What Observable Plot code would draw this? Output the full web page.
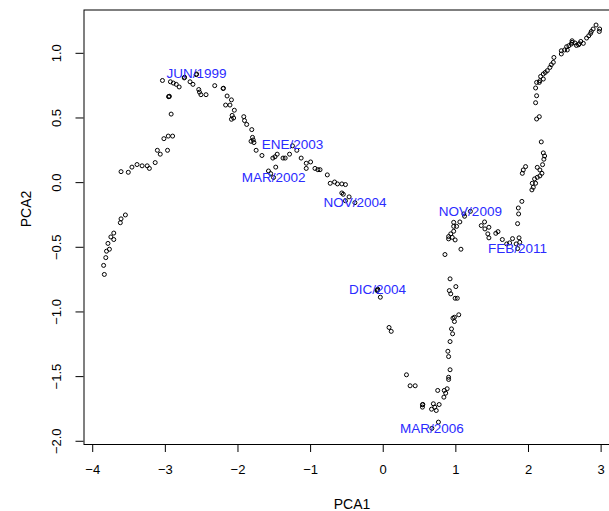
<!DOCTYPE html>
<html><head><meta charset="utf-8">
<script src="https://cdn.jsdelivr.net/npm/d3@7"></script>
<script src="https://cdn.jsdelivr.net/npm/@observablehq/plot@0.6"></script>
<style>html,body{margin:0;padding:0;background:#fff;overflow:hidden}</style>
</head><body><div id="chart"></div>
<script>
const pcaX = [
-3.84,-3.85,-3.82,-3.81,-3.77,-3.79,-3.71,-3.75,-3.71,-3.62,-3.61,-3.55,
-3.61,-3.51,-3.46,-3.39,-3.32,-3.22,-3.25,-3.14,-3.07,-3.11,-2.97,-2.90,-2.96,-3.02,-2.92,
-2.95,-2.955,-2.945,-3.04,-2.93,-2.89,-2.85,-2.81,-2.74,-2.735,-2.66,-2.62,-2.57,-2.575,
-2.54,-2.53,-2.51,-2.44,-2.32,-2.20,-2.205,-2.15,-2.09,-2.17,-2.11,-2.05,-2.08,-2.09,-2.06,
-1.92,-1.91,-1.88,-1.81,-1.80,-1.82,-1.78,-1.79,-1.75,-1.67,
-1.58,-1.55,-1.51,-1.48,-1.52,-1.49,-1.46,-1.38,-1.35,-1.29,-1.25,-1.19,-1.13,-1.06,-1.00,
-1.06,-0.94,-0.90,-0.87,-0.77,-0.73,-0.67,-0.63,-0.57,-0.52,-0.57,-0.55,-0.47,-0.52,-0.39,
-0.08,-0.075,-0.085,-0.04,0.08,0.11,0.32,0.37,0.44,0.54,0.545,0.54,0.665,0.69,0.71,0.73,
0.77,0.76,0.67,0.835,0.86,0.88,0.84,0.75,0.90,0.90,0.92,0.90,0.89,0.92,0.955,0.94,0.98,
0.96,0.98,1.04,1.02,0.99,0.93,0.91,1.00,0.92,0.85,1.07,0.99,0.90,0.95,0.90,0.93,0.97,1.01,
0.97,0.97,1.055,1.12,1.11,1.20,
1.35,1.395,1.40,1.455,1.44,1.455,1.55,1.58,1.64,1.70,1.74,1.78,1.83,1.85,1.87,1.88,
1.85,1.864,1.86,1.909,2.047,2.066,2.052,2.098,2.084,2.121,2.157,1.915,1.928,1.96,2.185,
2.157,2.121,2.194,2.212,2.222,2.204,2.176,2.149,2.112,2.098,2.112,2.098,2.149,2.112,2.157,
2.204,2.167,2.204,2.231,2.259,2.295,2.314,2.342,2.35,2.452,2.452,2.534,2.497,2.525,2.556,
2.59,2.60,2.66,2.69,2.72,2.755,2.80,2.83,2.855,2.865,2.89,2.975,2.98,2.93,2.60,2.64,2.70
];
const pcaY = [
-0.71,-0.64,-0.58,-0.53,-0.515,-0.47,-0.44,-0.42,-0.39,-0.31,-0.28,-0.25,
0.085,0.08,0.12,0.14,0.13,0.11,0.13,0.155,0.22,0.25,0.25,0.36,0.36,0.34,0.53,
0.665,0.665,0.668,0.79,0.78,0.77,0.76,0.74,0.81,0.815,0.78,0.76,0.84,0.835,
0.72,0.70,0.68,0.68,0.75,0.73,0.728,0.67,0.64,0.60,0.60,0.56,0.52,0.49,0.50,
0.51,0.48,0.45,0.41,0.35,0.32,0.31,0.33,0.25,0.21,
0.09,0.07,0.04,0.12,0.19,0.20,0.22,0.19,0.19,0.22,0.285,0.25,0.19,0.15,0.16,
0.11,0.11,0.10,0.10,0.06,-0.005,0.005,-0.01,-0.01,-0.015,-0.08,-0.09,-0.11,-0.14,-0.155,
-0.83,-0.825,-0.835,-0.886,-1.12,-1.15,-1.486,-1.571,-1.571,-1.718,-1.715,-1.736,-1.752,-1.71,-1.736,-1.762,
-1.716,-1.852,-1.90,-1.659,-1.628,-1.594,-1.607,-1.607,-1.522,-1.505,-1.447,-1.345,-1.304,-1.229,-1.169,-1.131,-1.074,
-1.048,-1.041,-1.022,-0.894,-0.894,-0.86,-0.835,-0.804,-0.744,-0.556,-0.515,-0.443,-0.435,-0.423,-0.417,-0.396,-0.376,-0.338,
-0.338,-0.307,-0.304,-0.26,-0.242,-0.222,
-0.332,-0.304,-0.358,-0.345,-0.396,-0.427,-0.392,-0.379,-0.44,-0.474,-0.466,-0.433,-0.474,-0.51,-0.427,-0.461,
-0.317,-0.242,-0.196,-0.145,-0.056,-0.036,-0.005,-0.005,0.029,0.041,0.052,0.072,0.098,0.124,0.072,
0.098,0.118,0.139,0.181,0.206,0.230,0.315,0.510,0.492,0.618,0.672,0.732,0.775,0.775,0.788,
0.801,0.821,0.840,0.852,0.866,0.891,0.912,0.930,0.968,0.995,1.020,1.026,1.026,1.051,1.059,
1.072,1.097,1.061,1.066,1.092,1.077,1.118,1.136,1.154,1.169,1.188,1.169,1.188,1.219,1.085,1.08,1.075
];
const labelText = ["JUN/1999","ENE/2003","MAR/2002","NOV/2004","DIC/2004","MAR/2006","NOV/2009","FEB/2011"];
const labelX = [-2.57,-1.25,-1.51,-0.39,-0.08,0.67,1.20,1.85];
const labelY = [0.84,0.29,0.04,-0.155,-0.83,-1.90,-0.222,-0.51];
const xTicks = [-4,-3,-2,-1,0,1,2,3];
const xTickLabels = ["\u22124","\u22123","\u22122","\u22121","0","1","2","3"];
const yTicks = [-2,-1.5,-1,-0.5,0,0.5,1];
const yTickLabels = ["\u22122.0","\u22121.5","\u22121.0","\u22120.5","0.0","0.5","1.0"];
const xTitle = "PCA1";
const yTitle = "PCA2";

const points = pcaX.map((x, i) => ({x, y: pcaY[i]}));
const labels = labelText.map((t, i) => ({t, x: labelX[i], y: labelY[i]}));

const chart = Plot.plot({
  width: 609, height: 511,
  marginLeft: 83.5, marginRight: -10.5, marginTop: 9.5, marginBottom: 67,
  x: {domain: [-4.12, 3.26]},
  y: {domain: [-2.025, 1.335]},
  style: {fontFamily: "'Liberation Sans', Arial, sans-serif", color: "#000", background: "#fff"},
  marks: [
    Plot.frame({stroke: "#000", strokeWidth: 1}),
    Plot.axisX({ticks: xTicks, tickFormat: d => xTickLabels[xTicks.indexOf(d)], tickSize: 8, tickPadding: 12, fontSize: 13, label: null}),
    Plot.axisY({ticks: yTicks, tickFormat: d => yTickLabels[yTicks.indexOf(d)], tickSize: 8, tickRotate: -90, tickPadding: 15, fontSize: 13, label: null}),
    Plot.dot(points, {x: "x", y: "y", r: 2, stroke: "#000", strokeWidth: 1, fill: "none"}),
    Plot.text(labels, {x: "x", y: "y", text: "t", fill: "#2b2bff", fontSize: 13.5}),
    Plot.text([xTitle], {frameAnchor: "bottom", dy: 64, fontSize: 14, text: d => d}),
    Plot.text([yTitle], {frameAnchor: "left", dx: -57.5, rotate: -90, fontSize: 14, text: d => d})
  ]
});
document.getElementById("chart").appendChild(chart);
</script>
</body></html>
